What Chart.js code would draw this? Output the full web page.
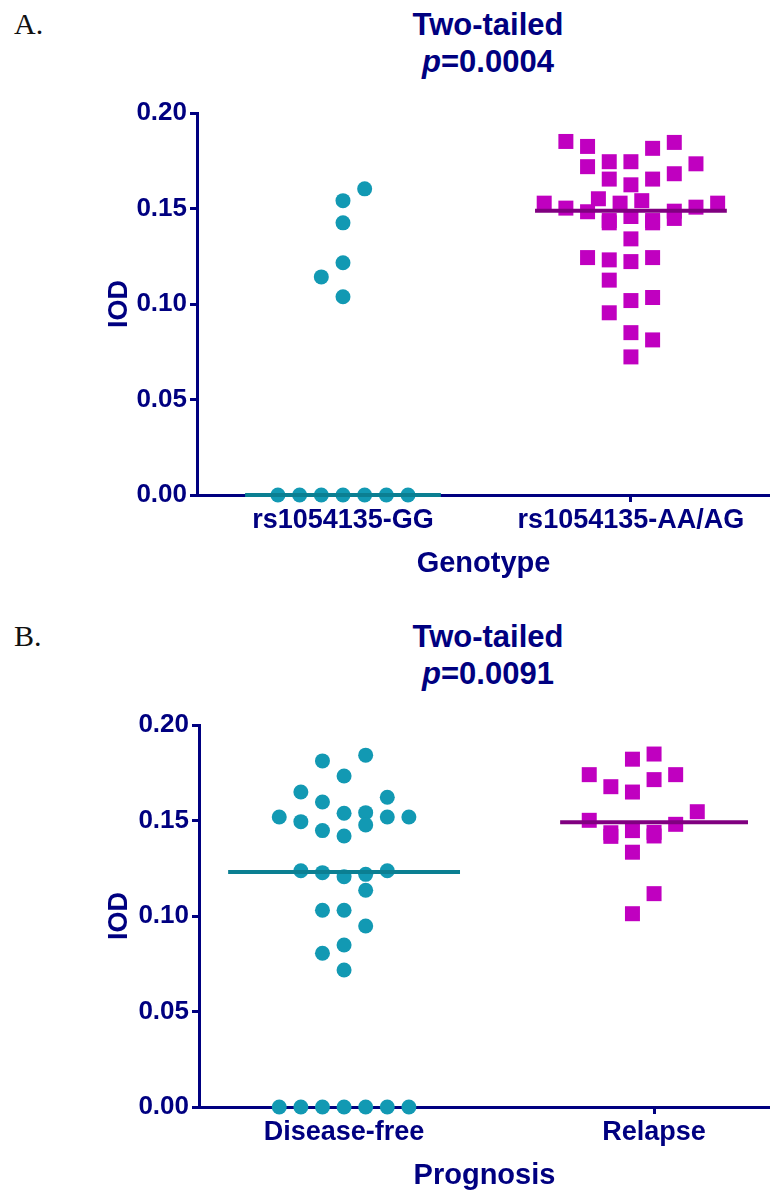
<!DOCTYPE html>
<html>
<head>
<meta charset="utf-8">
<script src="https://cdn.jsdelivr.net/npm/chart.js@4/dist/chart.umd.min.js"></script>
<style>
  body { margin: 0; background: #fff; width: 770px; height: 1195px; position: relative; overflow: hidden; }
  .panel-label { position: absolute; left: 14px; font: 30px/34px "Liberation Serif", "Times New Roman", serif; color: #111; }
  .title { position: absolute; left: 288px; width: 400px; text-align: center; font: bold 31px/36.5px "Liberation Sans", Arial, sans-serif; color: #000080; }
  .box { position: absolute; left: 0; width: 770px; height: 583px; }
</style>
</head>
<body>
<div class="panel-label" style="top:7px">A.</div>
<div class="title" style="top:7px">Two-tailed<br><i>p</i>=0.0004</div>
<div class="box" style="top:0"><canvas id="chart-a" width="770" height="583"></canvas></div>

<div class="panel-label" style="top:619px">B.</div>
<div class="title" style="top:619px">Two-tailed<br><i>p</i>=0.0091</div>
<div class="box" style="top:612px"><canvas id="chart-b" width="770" height="583"></canvas></div>

<script>
// Panel A: IOD by genotype
const genotypeLabels = ["rs1054135-GG", "rs1054135-AA/AG"];
const ggValues = [0.1603, 0.1541, 0.1425, 0.1216, 0.1142, 0.1038, 0, 0, 0, 0, 0, 0, 0];
const ggColumns = [1, 0, 0, 0, -1, 0, -3, -2, -1, 0, 1, 2, 3];
const aaValues = [
	0.1851, 0.1825, 0.1846, 0.1815, 0.1719, 0.1745, 0.1745, 0.1734, 0.1654, 0.1654,
	0.1682, 0.1624, 0.1551, 0.1541, 0.1528, 0.1502, 0.1528, 0.1528, 0.1507, 0.1483,
	0.1486, 0.1448, 0.1437, 0.1425, 0.1458, 0.1437, 0.1425, 0.1341, 0.1243, 0.1231,
	0.1222, 0.1243, 0.1125, 0.1018, 0.1034, 0.0954, 0.085, 0.0812, 0.0723,
];
const aaColumns = [
	-3, -2, 2, 1, -2, -1, 0, 3, -1, 1,
	2, 0, -1.5, 0.5, -4, -3, -0.5, 4, 3, -2,
	2, 2, -1, -1, 0, 1, 1, 0, -2, -1,
	0, 1, -1, 0, 1, -1, 0, 1, 0,
];
const genotypeMedians = [0, 0.1488];

// Panel B: IOD by prognosis
const prognosisLabels = ["Disease-free", "Relapse"];
const dfValues = [
	0.1842, 0.1812, 0.1733, 0.1649, 0.1622, 0.1597, 0.1518, 0.1494, 0.1538, 0.1541,
	0.1477, 0.1518, 0.1518, 0.1447, 0.1419, 0.1237, 0.1227, 0.1206, 0.1218, 0.1237,
	0.1135, 0.103, 0.103, 0.0948, 0.0848, 0.0805, 0.0717, 0, 0, 0, 0, 0, 0, 0,
];
const dfColumns = [
	1, -1, 0, -2, 2, -1, -3, -2, 0, 1,
	1, 2, 3, -1, 0, -2, -1, 0, 1, 2,
	1, -1, 0, 1, 0, -1, 0, -3, -2, -1, 0, 1, 2, 3,
];
const rlValues = [
	0.1848, 0.1821, 0.174, 0.174, 0.1714, 0.1677, 0.1649, 0.1546, 0.1501, 0.148,
	0.1436, 0.1417, 0.1447, 0.1438, 0.1419, 0.1334, 0.1117, 0.1012,
];
const rlColumns = [0, -1, -3, 1, 0, -2, -1, 2, -3, 1, -2, -2, -1, 0, 0, -1, 0, -1];
const prognosisMedians = [0.123, 0.1491];

const yTicks = [0, 0.05, 0.1, 0.15, 0.2];

const NAVY = "#000080";
const FONT = '"Liberation Sans", Arial, sans-serif';
const CYAN = "#1299b3";
const MAGENTA = "#c000c0";

/**
 * Builds one dot-plot panel with median bars
 */
const makePanel = (canvasId, cfg) => {
	const datasets = [];
	// median bars on top of the dots
	cfg.medians.forEach((m, i) => {
		const c = i + 1;
		datasets.push({
			type: "line",
			data: [
				{ x: c - cfg.medianHalf[i], y: m },
				{ x: c + cfg.medianHalf[i], y: m },
			],
			borderColor: cfg.lineColors[i],
			borderWidth: 4,
			pointRadius: 0,
			showLine: true,
			clip: false,
			order: 0,
		});
	});
	cfg.groups.forEach((g, i) => {
		datasets.push({
			data: g.values.map((v, k) => ({ x: i + 1 + g.columns[k] * cfg.colStep, y: v })),
			pointStyle: g.style,
			pointRadius: g.radius,
			backgroundColor: g.color,
			borderWidth: 0,
			clip: false,
			order: 1,
		});
	});

	return new Chart(document.getElementById(canvasId), {
		type: "scatter",
		data: { datasets },
		options: {
			responsive: false,
			animation: false,
			devicePixelRatio: 1,
			layout: {
				autoPadding: false,
				padding: { left: cfg.padLeft, top: 113, right: 0, bottom: 0 },
			},
			plugins: { legend: { display: false }, tooltip: { enabled: false } },
			scales: {
				x: {
					type: "linear",
					min: cfg.xMin,
					max: cfg.xMax,
					afterBuildTicks: (s) => { s.ticks = [{ value: 1 }, { value: 2 }]; },
					afterFit: (s) => {
						s.height = 88;
						s.paddingLeft = 0;
						s.paddingRight = 0;
					},
					border: { color: NAVY, width: 3 },
					grid: { drawOnChartArea: false, drawTicks: true, tickLength: 7, tickWidth: 3, tickColor: NAVY },
					ticks: {
						callback: (v, idx) => cfg.labels[idx],
						color: NAVY,
						font: { family: FONT, size: 27, weight: "bold" },
						padding: 2,
						maxRotation: 0,
						autoSkip: false,
					},
					title: {
						display: true,
						text: cfg.xTitle,
						color: NAVY,
						font: { family: FONT, size: 29, weight: "bold" },
						padding: { top: 0, bottom: 2 },
					},
				},
				y: {
					min: 0,
					max: 0.2,
					afterBuildTicks: (s) => { s.ticks = yTicks.map((v) => ({ value: v })); },
					afterFit: (s) => {
						s.width = cfg.yWidth;
						s.paddingTop = 0;
						s.paddingBottom = 0;
					},
					border: { color: NAVY, width: 3 },
					grid: { drawOnChartArea: false, drawTicks: true, tickLength: 7, tickWidth: 3, tickColor: NAVY },
					ticks: {
						callback: (v) => v.toFixed(2),
						color: NAVY,
						font: { family: FONT, size: 26, weight: "bold" },
						padding: 3,
					},
					title: {
						display: true,
						text: "IOD",
						color: NAVY,
						font: { family: FONT, size: 27, weight: "bold" },
						padding: { top: 8, bottom: 0 },
					},
				},
			},
		},
	});
};

makePanel("chart-a", {
	labels: genotypeLabels,
	xTitle: "Genotype",
	medians: genotypeMedians,
	medianHalf: [0.34, 0.333],
	lineColors: ["#0b7f92", "#800080"],
	colStep: 0.0753,
	xMin: 0.493,
	xMax: 2.483,
	padLeft: 95,
	yWidth: 102,
	groups: [
		{ values: ggValues, columns: ggColumns, style: "circle", radius: 7.5, color: CYAN },
		{ values: aaValues, columns: aaColumns, style: "rect", radius: 10.6, color: MAGENTA },
	],
});

makePanel("chart-b", {
	labels: prognosisLabels,
	xTitle: "Prognosis",
	medians: prognosisMedians,
	medianHalf: [0.374, 0.303],
	lineColors: ["#0b7f92", "#800080"],
	colStep: 0.0697,
	xMin: 0.532,
	xMax: 2.374,
	padLeft: 95,
	yWidth: 104,
	groups: [
		{ values: dfValues, columns: dfColumns, style: "circle", radius: 7.5, color: CYAN },
		{ values: rlValues, columns: rlColumns, style: "rect", radius: 10.6, color: MAGENTA },
	],
});
</script>
</body>
</html>
